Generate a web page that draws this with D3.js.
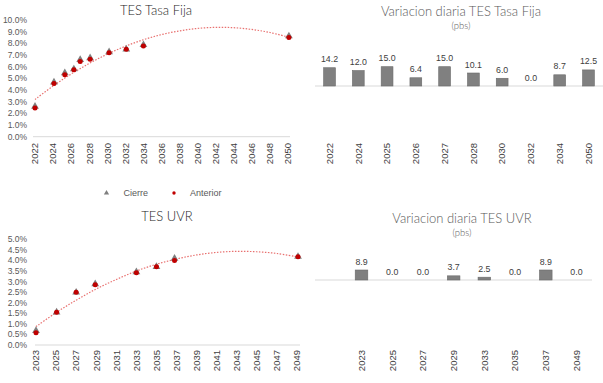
<!DOCTYPE html>
<html><head><meta charset="utf-8">
<script src="https://cdn.jsdelivr.net/npm/d3@7"></script>
<style>body{margin:0;background:#fff}svg{display:block}</style>
</head><body><svg id="c" width="603" height="383"></svg>
<script>
// ---- Data ----
const tfMaturity = [2022.0, 2024.1, 2025.3, 2026.3, 2027.0, 2028.1, 2030.2, 2032.1, 2034.0, 2050.1];
const tfCierre   = [2.59, 4.67, 5.45, 5.79, 6.59, 6.74, 7.26, 7.50, 7.87, 8.62];
const tfAnterior = [2.45, 4.55, 5.30, 5.73, 6.44, 6.64, 7.20, 7.50, 7.78, 8.49];
const tfTrendX   = [2022, 2024, 2026, 2028, 2030, 2032, 2034, 2036, 2038, 2040, 2042, 2044, 2046, 2048, 2050];
const tfTrendY   = [3.19, 4.34, 5.37, 6.28, 7.07, 7.75, 8.31, 8.75, 9.07, 9.28, 9.37, 9.34, 9.19, 8.93, 8.54];
const tfCats     = ["2022","2024","2025","2026","2027","2028","2030","2032","2034","2050"];
const tfVar      = [14.2, 12.0, 15.0, 6.4, 15.0, 10.1, 6.0, 0.0, 8.7, 12.5];
const tfXTicks   = [2022,2024,2026,2028,2030,2032,2034,2036,2038,2040,2042,2044,2046,2048,2050];
const tfYTicks   = [0,1,2,3,4,5,6,7,8,9,10];

const uvrMaturity = [2023.0, 2025.05, 2027.0, 2028.9, 2033.0, 2035.0, 2036.8, 2049.1];
const uvrCierre   = [0.67, 1.55, 2.49, 2.89, 3.45, 3.70, 4.09, 4.18];
const uvrAnterior = [0.58, 1.55, 2.49, 2.85, 3.42, 3.70, 4.00, 4.18];
const uvrTrendX   = [2023, 2025, 2027, 2029, 2031, 2033, 2035, 2037, 2039, 2041, 2043, 2045, 2047, 2049];
const uvrTrendY   = [0.87, 1.53, 2.12, 2.65, 3.10, 3.50, 3.82, 4.07, 4.26, 4.38, 4.43, 4.41, 4.33, 4.17];
const uvrCats     = ["2023","2025","2027","2029","2033","2035","2037","2049"];
const uvrVar      = [8.9, 0.0, 0.0, 3.7, 2.5, 0.0, 8.9, 0.0];
const uvrXTicks   = [2023,2025,2027,2029,2031,2033,2035,2037,2039,2041,2043,2045,2047,2049];
const uvrYTicks   = [0,0.5,1,1.5,2,2.5,3,3.5,4,4.5,5];

const legendItems = ["Cierre", "Anterior"];

// ---- Styles ----
const FONT = "'Liberation Sans', Arial, sans-serif";
const TFONT = "Lato, 'Open Sans', sans-serif";
const svg = d3.select("#c");
const fmtPct = v => d3.format(".1f")(v) + "%";

function scatterChart(o) {
  const g = svg.append("g");
  const x = d3.scaleLinear().domain(o.xDom).range(o.xRange);
  const y = d3.scaleLinear().domain(o.yDom).range(o.yRange);
  g.append("g").selectAll("text").data(o.yTicks).join("text")
    .attr("x", o.yLabelX).attr("y", d => y(d)).attr("dy", "0.35em")
    .attr("text-anchor", "end").attr("font-family", FONT).attr("font-size", 8.5)
    .attr("fill", "#595959").text(fmtPct);
  g.append("line").attr("x1", o.axisX[0]).attr("x2", o.axisX[1])
    .attr("y1", y(0)).attr("y2", y(0)).attr("stroke", "#d9d9d9").attr("stroke-width", 1);
  g.append("g").selectAll("text").data(o.xTicks).join("text")
    .attr("transform", d => `translate(${x(d)},${o.xLabelY}) rotate(-90)`)
    .attr("dy", "0.35em").attr("text-anchor", "end")
    .attr("font-family", FONT).attr("font-size", 9.5).attr("fill", "#404040")
    .text(d => d);
  const line = d3.line().x(d => x(d[0])).y(d => y(d[1])).curve(d3.curveCatmullRom);
  g.append("path").attr("d", line(o.trendX.map((v, i) => [v, o.trendY[i]])))
    .attr("fill", "none").attr("stroke", "#e8706f").attr("stroke-width", 1.2)
    .attr("stroke-dasharray", "1.5,1.5");
  const tri = d3.symbol().type(d3.symbolTriangle).size(26);
  g.append("g").selectAll("path").data(o.mat).join("path")
    .attr("transform", (d, i) => `translate(${x(d)},${y(o.cierre[i])})`)
    .attr("d", tri).attr("fill", "#7f7f7f");
  g.append("g").selectAll("circle").data(o.mat).join("circle")
    .attr("cx", d => x(d)).attr("cy", (d, i) => y(o.anterior[i])).attr("r", 2.5)
    .attr("fill", "#c00000");
  g.append("text").attr("x", o.titleX).attr("y", o.titleY).attr("text-anchor", "middle")
    .attr("font-family", TFONT).attr("font-weight", 300).attr("font-size", 13).attr("fill", "#262626")
    .text(o.title);
}

function barChart(o) {
  const g = svg.append("g");
  const x = d3.scaleBand().domain(o.cats).range(o.xRange).paddingInner(0.59).paddingOuter(0.3);
  const y = d3.scaleLinear().domain(o.yDom).range(o.yRange);
  g.append("line").attr("x1", o.axisX[0]).attr("x2", o.axisX[1])
    .attr("y1", y(0)).attr("y2", y(0)).attr("stroke", "#d9d9d9").attr("stroke-width", 1);
  g.append("g").selectAll("rect").data(o.vals).join("rect")
    .attr("x", (d, i) => x(o.cats[i])).attr("width", x.bandwidth())
    .attr("y", d => y(d)).attr("height", d => y(0) - y(d))
    .attr("fill", "#808080").attr("stroke", "#6a6a6a").attr("stroke-width", 0.6);
  g.append("g").selectAll("text.v").data(o.vals).join("text")
    .attr("x", (d, i) => x(o.cats[i]) + x.bandwidth() / 2).attr("y", d => y(d) - 5.5)
    .attr("text-anchor", "middle").attr("font-family", FONT).attr("font-size", 8.8)
    .attr("fill", "#404040").text(d => d3.format(".1f")(d));
  g.append("g").selectAll("text.c").data(o.cats).join("text")
    .attr("transform", d => `translate(${x(d) + x.bandwidth() / 2},${o.xLabelY}) rotate(-90)`)
    .attr("dy", "0.35em").attr("text-anchor", "end")
    .attr("font-family", FONT).attr("font-size", 9.5).attr("fill", "#404040").text(d => d);
  g.append("text").attr("x", o.titleX).attr("y", o.titleY).attr("text-anchor", "middle")
    .attr("font-family", TFONT).attr("font-weight", 300).attr("font-size", 13).attr("fill", "#595959").text(o.title);
  g.append("text").attr("x", o.titleX).attr("y", o.titleY + 12.5).attr("text-anchor", "middle")
    .attr("font-family", TFONT).attr("font-weight", 300).attr("font-size", 9.5).attr("fill", "#595959").text("(pbs)");
}

scatterChart({
  xDom: [2022, 2050], xRange: [35, 288], yDom: [0, 10], yRange: [136.7, 20],
  yTicks: tfYTicks, xTicks: tfXTicks, yLabelX: 27, axisX: [33, 290], xLabelY: 143,
  trendX: tfTrendX, trendY: tfTrendY, mat: tfMaturity, cierre: tfCierre, anterior: tfAnterior,
  title: "TES Tasa Fija", titleX: 156, titleY: 14.5
});
scatterChart({
  xDom: [2023, 2049], xRange: [36, 297], yDom: [0, 5], yRange: [345, 239.3],
  yTicks: uvrYTicks, xTicks: uvrXTicks, yLabelX: 27, axisX: [35, 300], xLabelY: 350,
  trendX: uvrTrendX, trendY: uvrTrendY, mat: uvrMaturity, cierre: uvrCierre, anterior: uvrAnterior,
  title: "TES UVR", titleX: 167, titleY: 221
});
barChart({
  cats: tfCats, vals: tfVar, xRange: [315, 603], yDom: [0, 15], yRange: [86, 66.7],
  axisX: [315, 603], xLabelY: 143, title: "Variacion diaria TES Tasa Fija", titleX: 461, titleY: 16
});
barChart({
  cats: uvrCats, vals: uvrVar, xRange: [346, 592], yDom: [0, 8.9], yRange: [280, 270],
  axisX: [315, 592], xLabelY: 350, title: "Variacion diaria TES UVR", titleX: 462, titleY: 223
});

// Legend
const lg = svg.append("g").attr("font-family", FONT).attr("font-size", 9).attr("fill", "#595959");
const legX = [106.5, 174];
lg.append("path").attr("transform", `translate(${legX[0]},193)`)
  .attr("d", d3.symbol().type(d3.symbolTriangle).size(12)).attr("fill", "#7f7f7f");
lg.append("circle").attr("cx", legX[1]).attr("cy", 193).attr("r", 1.7).attr("fill", "#c00000");
lg.selectAll("text").data(legendItems).join("text")
  .attr("x", (d, i) => legX[i] + (i === 0 ? 17 : 16)).attr("y", 193).attr("dy", "0.35em").text(d => d);
</script></body></html>
